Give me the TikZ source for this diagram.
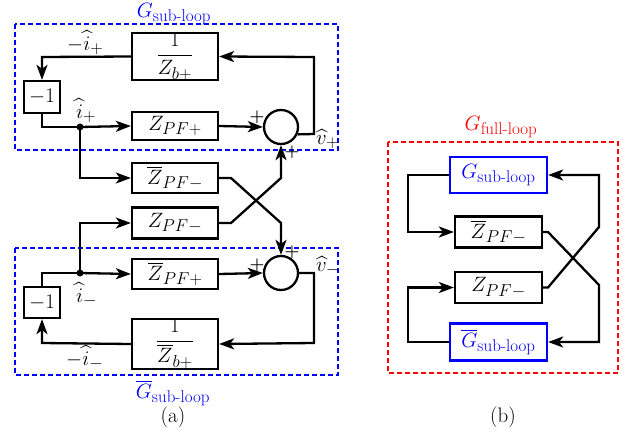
\documentclass[tikz,border=0pt]{standalone}
\usepackage{amsmath}
\DeclareMathSizes{21}{21}{17}{12}
\usetikzlibrary{arrows.meta}
\begin{document}
\begin{tikzpicture}[x=1pt,y=-1pt,
  every node/.style={font=\fontsize{21}{25}\selectfont},
  blk/.style={draw,line width=2.3pt,minimum width=86pt,inner sep=0pt,align=center},
  bblk/.style={draw=blue,line width=2.3pt,minimum width=97pt,inner sep=0pt,text=blue},
  sumc/.style={draw,circle,line width=2.3pt,minimum size=34pt,inner sep=0pt},
  conn/.style={line width=2.3pt},
  arr/.style={conn,-{Stealth[length=15pt,width=11pt,inset=4pt]}},
  bdash/.style={draw=blue,line width=1.8pt,dash pattern=on 5pt off 3pt},
  rdash/.style={draw=red,line width=1.8pt,dash pattern=on 5pt off 3pt},
  pl/.style={font=\fontsize{17}{17}\selectfont\bfseries,inner sep=0pt},
  dot/.style={circle,fill,inner sep=0pt,minimum size=7pt},
  lab/.style={inner sep=0pt,anchor=base},
  labw/.style={inner sep=0pt,anchor=base west},
  captxt/.style={inner sep=0pt,anchor=base,font=\fontsize{21}{24}\selectfont}
]
\useasboundingbox (0,0) rectangle (639,439);

% ---------- panel (a) ----------
\draw[bdash] (15,24) rectangle (338,150);
\draw[bdash] (15,248) rectangle (338,375);
\node[lab,text=blue] (lgU) at (174,17) {$G_{\text{sub-loop}}$};
\node[lab,text=blue] (lgL) at (173,398) {$\overline{G}_{\text{sub-loop}}$};
\node[captxt] (la) at (173,422) {(a)};

\node[blk,minimum height=47pt] (zb) at (175,56.5) {$\dfrac{1}{Z_{b+}}$};
\node[blk,minimum width=36pt,minimum height=32pt] (m1) at (42,97) {$-1$};
\node[blk,minimum height=28pt] (zpfp) at (175,126) {$Z_{PF+}$};
\node[sumc] (sumU) at (281,127) {};
\node[blk,minimum height=30pt] (zbpfm) at (175,178) {$\overline{Z}_{PF-}$};
\node[blk,minimum height=31pt] (zpfm) at (175,223) {$Z_{PF-}$};
\node[blk,minimum height=30pt] (zbpfp) at (175,274) {$\overline{Z}_{PF+}$};
\node[sumc] (sumL) at (281,273) {};
\node[blk,minimum width=36pt,minimum height=31pt] (m1L) at (42,302.5) {$-1$};
\node[blk,minimum height=48pt] (zbb) at (175,344) {$\dfrac{1}{\overline{Z}_{b+}}$};

\node[dot] (dU) at (80,127) {};
\node[dot] (dL) at (80,273) {};

\coordinate (cU1) at (314,134);
\coordinate (cU2) at (314,57);
\coordinate (cU3) at (42,57);
\coordinate (cU4) at (42,127);
\coordinate (cU5) at (80,178);
\coordinate (x1) at (231,178);
\coordinate (x2) at (281,223);
\coordinate (x3) at (231,223);
\coordinate (x4) at (281,178);
\coordinate (cL1) at (314,273);
\coordinate (cL2) at (314,343);
\coordinate (cL3) at (42,343);
\coordinate (cL4) at (42,273);
\coordinate (cL5) at (80,223);

\draw[arr] (sumU.-24) -- (cU1) -- (cU2) -- (zb.east);
\draw[arr] (zb.west) -- (cU3) -- (m1.north);
\draw[conn] (m1.south) -- (cU4) -- (dU.center);
\draw[arr] (dU.center) -- (zpfp.west);
\draw[arr] (zpfp.east) -- (sumU.west);
\draw[arr] (dU.center) -- (cU5) -- (zbpfm.west);
\draw[arr] (zbpfm.east) -- (x1) -- (x2) -- (sumL.north);
\draw[arr] (zpfm.east) -- (x3) -- (x4) -- (sumU.south);
\draw[conn] (m1L.north) -- (cL4) -- (dL.center);
\draw[arr] (dL.center) -- (zbpfp.west);
\draw[arr] (dL.center) -- (cL5) -- (zpfm.west);
\draw[arr] (zbpfp.east) -- (sumL.west);
\draw[arr] (sumL.east) -- (cL1) -- (cL2) -- (zbb.east);
\draw[arr] (zbb.west) -- (cL3) -- (m1L.south);

\node[labw] (liU1) at (67,50) {$-\widehat{i}_+$};
\node[labw] (liU2) at (76,118) {$\widehat{i}_+$};
\node[labw] (liL2) at (76,302) {$\widehat{i}_-$};
\node[labw] (liL1) at (66,365) {$-\widehat{i}_-$};
\node[labw] (lvU) at (316,144) {$\widehat{v}_+$};
\node[labw] (lvL) at (316,271) {$\widehat{v}_-$};
\node[pl] (p1) at (257,117) {+};
\node[pl] (p2) at (292,152) {+};
\node[pl] (p3) at (257,265) {+};
\node[pl] (p4) at (292,252) {+};

% ---------- panel (b) ----------
\draw[rdash] (388,142) rectangle (618,373);
\node[lab,text=red] (lgF) at (501,130) {$G_{\text{full-loop}}$};
\node[captxt] (lb) at (503,422) {(b)};

\node[bblk,minimum height=36pt] (gs) at (498.5,175) {$G_{\text{sub-loop}}$};
\node[blk,minimum width=87pt,minimum height=31pt] (rzbm) at (498.5,232) {$\overline{Z}_{PF-}$};
\node[blk,minimum width=87pt,minimum height=31pt] (rzm) at (498.5,287.5) {$Z_{PF-}$};
\node[bblk,minimum height=37pt] (gsb) at (498.5,342) {$\overline{G}_{\text{sub-loop}}$};

\coordinate (r1) at (408,175);
\coordinate (r2) at (408,232);
\coordinate (r3) at (408,342);
\coordinate (r4) at (408,287.5);
\coordinate (r5) at (548,232);
\coordinate (r6) at (599,285);
\coordinate (r7) at (599,342);
\coordinate (r8) at (548,287.5);
\coordinate (r9) at (599,227);
\coordinate (r10) at (599,175);

\draw[arr] (gs.west) -- (r1) -- (r2) -- (rzbm.west);
\draw[arr] (gsb.west) -- (r3) -- (r4) -- (rzm.west);
\draw[arr] (rzbm.east) -- (r5) -- (r6) -- (r7) -- (gsb.east);
\draw[arr] (rzm.east) -- (r8) -- (r9) -- (r10) -- (gs.east);
\end{tikzpicture}
\end{document}
